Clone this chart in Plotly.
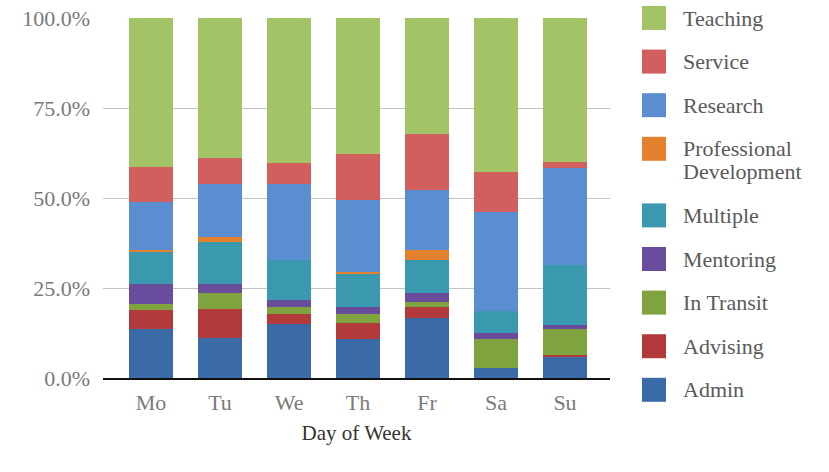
import plotly.graph_objects as go

days = ["Mo", "Tu", "We", "Th", "Fr", "Sa", "Su"]

admin = [13.5, 11.1, 15.1, 10.7, 16.7, 2.9, 5.8]
advising = [5.5, 8.0, 2.6, 4.6, 2.9, 0.0, 0.7]
in_transit = [1.6, 4.4, 2.1, 2.6, 1.6, 7.8, 7.2]
mentoring = [5.5, 2.6, 1.8, 1.7, 2.5, 1.8, 1.0]
multiple = [8.8, 11.6, 11.3, 9.2, 9.0, 6.1, 16.8]
prof_dev = [0.6, 1.4, 0.0, 0.7, 2.8, 0.0, 0.0]
research = [13.3, 14.7, 20.9, 19.9, 16.7, 27.4, 26.8]
service = [9.9, 7.2, 6.0, 12.8, 15.5, 11.1, 1.8]
teaching = [41.3, 39.0, 40.2, 37.8, 32.3, 42.9, 39.9]

series_names = ["Admin", "Advising", "In Transit", "Mentoring", "Multiple",
                "Professional<br>Development", "Research", "Service", "Teaching"]
series_values = [admin, advising, in_transit, mentoring, multiple,
                 prof_dev, research, service, teaching]
colors = ["#3A6BA7", "#B33A3A", "#7FA33F", "#6A4C9C", "#3A98AF",
          "#E3812E", "#5A8ED0", "#D05F5E", "#A2C366"]

FONT = "Liberation Serif, Tinos, Times New Roman, DejaVu Serif, serif"
W, H = 829, 472
L, R, T, B = 103, 610, 18, 378

fig = go.Figure()
tot = [sum(v[i] for v in series_values) for i in range(len(days))]
for name, vals, col in zip(series_names, series_values, colors):
    fig.add_trace(go.Bar(
        x=days, y=[v / t for v, t in zip(vals, tot)], name=name,
        marker=dict(color=col, line=dict(width=0)), width=0.64,
        showlegend=False,
    ))

def px(x):
    return (x - L) / (R - L)

def py(y):
    return (B - y) / (B - T)

shapes = []
annotations = []
yc = 18
for name, col in zip(reversed(series_names), reversed(colors)):
    shapes.append(dict(type="rect", xref="paper", yref="paper",
                       x0=px(642), x1=px(666), y0=py(yc + 12), y1=py(yc - 12),
                       fillcolor=col, line=dict(width=0)))
    lines = name.split("<br>")
    for j, ln in enumerate(lines):
        annotations.append(dict(text=ln, xref="paper", yref="paper",
                                x=px(681), y=py(yc + 23 * j), xanchor="left",
                                yanchor="middle", showarrow=False,
                                font=dict(family=FONT, size=22, color="#5a5a5a")))
    yc += 43.6 + 23 * (len(lines) - 1)

fig.update_layout(
    width=W, height=H,
    margin=dict(l=L, r=W - R, t=T, b=H - B, autoexpand=False),
    barmode="stack",
    paper_bgcolor="white", plot_bgcolor="white",
    font=dict(family=FONT, size=22, color="#777777"),
    shapes=shapes, annotations=annotations,
    xaxis=dict(range=[-0.696, 6.652], showline=True, linecolor="#111111",
               linewidth=1.5, ticks="", showgrid=False, automargin=False,
               tickfont=dict(family=FONT, size=22, color="#7a7a7a"),
               ticklabelstandoff=4,
               title=dict(text="Day of Week", standoff=11,
                          font=dict(family=FONT, size=21, color="#333333"))),
    yaxis=dict(range=[0, 1], dtick=0.25, tickformat=".1%", showgrid=True,
               gridcolor="#c4c4c4", gridwidth=1, zeroline=False,
               ticks="", ticklabelstandoff=12, automargin=False,
               ticklabeloverflow="allow",
               tickfont=dict(family=FONT, size=22, color="#7a7a7a")),
)

fig.write_html("out.html", config={"displayModeBar": False},
               post_script="document.body.style.margin='0';")
